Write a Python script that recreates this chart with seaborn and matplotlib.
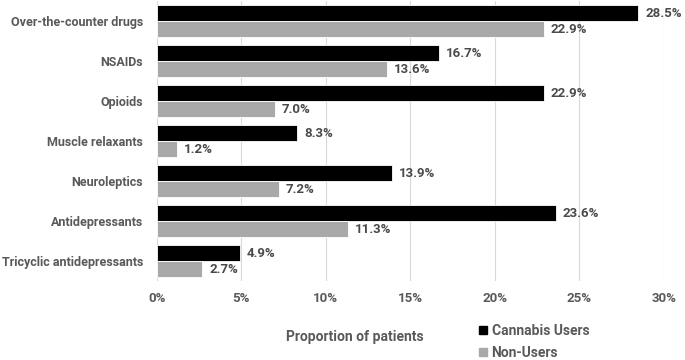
import matplotlib
matplotlib.use("Agg")
import matplotlib.pyplot as plt
import seaborn as sns
import pandas as pd
from matplotlib.ticker import FuncFormatter
from matplotlib.lines import Line2D

categories = ["Over-the-counter drugs", "NSAIDs", "Opioids", "Muscle relaxants",
              "Neuroleptics", "Antidepressants", "Tricyclic antidepressants"]
cannabis_users = [28.5, 16.7, 22.9, 8.3, 13.9, 23.6, 4.9]
non_users = [22.9, 13.6, 7.0, 1.2, 7.2, 11.3, 2.7]
series = ["Cannabis Users", "Non-Users"]
xticks = [0, 5, 10, 15, 20, 25, 30]

df = pd.DataFrame({
    "Category": categories * 2,
    "Value": cannabis_users + non_users,
    "Group": [series[0]] * len(categories) + [series[1]] * len(categories),
})

sns.set_style("white")
plt.rcParams["font.family"] = ["Roboto", "DejaVu Sans"]
text_col = "#595959"

fig = plt.figure(figsize=(6.85, 3.6), dpi=100)
ax = fig.add_axes([0.229, 0.219, 0.740, 0.778])

sns.barplot(data=df, y="Category", x="Value", hue="Group", orient="h",
            palette=["#000000", "#A9A9A9"], width=0.8, ax=ax,
            edgecolor="white", linewidth=0.6, legend=False)

for cont in ax.containers:
    ax.bar_label(cont, labels=[f"{v:.1f}%" for v in cont.datavalues], padding=5,
                 fontsize=9.5, fontweight="bold", color="#4a4a4a")

ax.set_xlim(0, 30)
ax.set_xticks(xticks)
ax.xaxis.set_major_formatter(FuncFormatter(lambda v, p: f"{v:.0f}%"))
ax.grid(axis="x", color="#d9d9d9", linewidth=0.8)
ax.set_axisbelow(True)
for s in ax.spines.values():
    s.set_visible(False)
ax.tick_params(axis="y", length=0, labelsize=9, labelcolor=text_col, pad=10)
ax.tick_params(axis="x", length=0, labelsize=9.5, labelcolor=text_col, pad=8)
for lab in ax.get_xticklabels() + ax.get_yticklabels():
    lab.set_fontweight("bold")
ax.set_ylabel("")
ax.set_xlabel("")

fig.text(0.518, 0.065, "Proportion of patients", ha="center", va="center",
         fontsize=10, fontweight="bold", color=text_col)

handles = [Line2D([], [], marker="s", linestyle="none", color=c, markersize=6)
           for c in ["#000000", "#A9A9A9"]]
leg = fig.legend(handles, series, loc="center left", bbox_to_anchor=(0.677, 0.05),
                 frameon=False, handletextpad=0.1, labelspacing=0.55,
                 prop={"size": 10, "weight": "bold"}, handlelength=1.0)
for t in leg.get_texts():
    t.set_color(text_col)

fig.savefig("out.png", dpi=100)
